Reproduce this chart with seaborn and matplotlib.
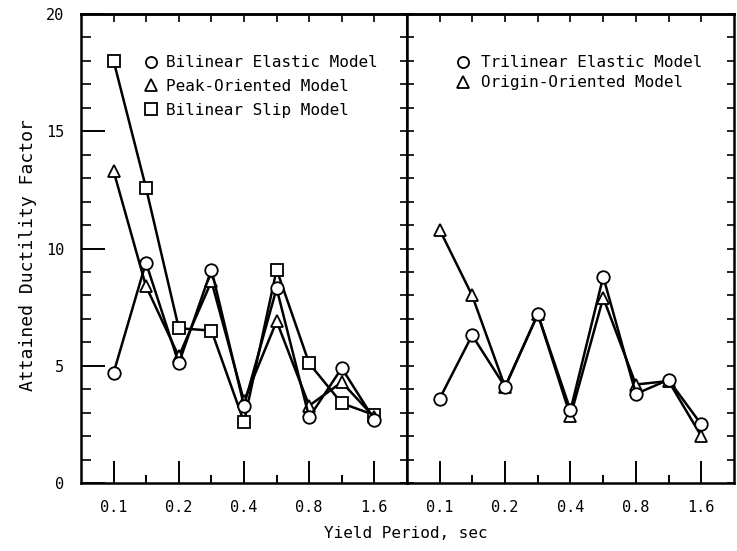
import matplotlib
matplotlib.use("Agg")
import matplotlib.pyplot as plt
import seaborn as sns
import pandas as pd
from matplotlib.lines import Line2D
from matplotlib.ticker import MultipleLocator, FixedLocator, NullFormatter, NullLocator

# yield periods (sec), log2 spaced
periods = [0.1, 0.141, 0.2, 0.283, 0.4, 0.566, 0.8, 1.131, 1.6]
tick_periods = [0.1, 0.2, 0.4, 0.8, 1.6]
minor_periods = [0.141, 0.283, 0.566, 1.131]

bilinear_elastic = [4.7, 9.4, 5.1, 9.1, 3.3, 8.3, 2.8, 4.9, 2.7]
peak_oriented = [13.3, 8.4, 5.4, 8.6, 3.5, 6.9, 3.3, 4.3, 2.8]
bilinear_slip = [18.0, 12.6, 6.6, 6.5, 2.6, 9.1, 5.1, 3.4, 2.9]

trilinear_elastic = [3.6, 6.3, 4.1, 7.2, 3.1, 8.8, 3.8, 4.4, 2.5]
origin_oriented = [10.8, 8.0, 4.1, 7.2, 2.85, 7.9, 4.2, 4.35, 2.0]

sns.set_style("ticks")
plt.rcParams['font.family'] = ['DejaVu Sans Mono', 'DejaVu Sans']
plt.rcParams['axes.linewidth'] = 1.8
for key in ['axes.edgecolor', 'xtick.color', 'ytick.color', 'text.color', 'axes.labelcolor']:
    plt.rcParams[key] = 'black'

fig = plt.figure(figsize=(7.37, 5.51), dpi=100)
ax1 = fig.add_axes([0.1099, 0.1234, 0.4423, 0.8512])
ax2 = fig.add_axes([0.5522, 0.1234, 0.4437, 0.8512])

style = dict(color='black', linewidth=1.8, markersize=9,
             markerfacecolor='white', markeredgecolor='black', markeredgewidth=1.3)


def draw(ax, series):
    for vals, mk in series:
        df = pd.DataFrame({'period': periods, 'factor': vals})
        sns.lineplot(data=df, x='period', y='factor', marker=mk, ax=ax, **style)


draw(ax1, [(bilinear_slip, 's'), (peak_oriented, '^'), (bilinear_elastic, 'o')])
draw(ax2, [(origin_oriented, '^'), (trilinear_elastic, 'o')])

for ax in (ax1, ax2):
    ax.set_xscale('log', base=2)
    ax.set_xlim(0.0707, 2.263)
    ax.set_ylim(0, 20)
    ax.set_xlabel('')
    ax.set_ylabel('')
    ax.xaxis.set_major_locator(FixedLocator(tick_periods))
    ax.xaxis.set_minor_locator(FixedLocator(minor_periods))
    ax.set_xticklabels(['0.1', '0.2', '0.4', '0.8', '1.6'])
    ax.xaxis.set_minor_formatter(NullFormatter())
    ax.tick_params(axis='x', which='major', direction='in', length=16, width=1.4,
                   labelsize=11, pad=12, bottom=True, top=False)
    ax.tick_params(axis='x', which='minor', direction='in', length=6, width=1.4,
                   bottom=True, top=False)
    top = ax.secondary_xaxis('top')
    top.xaxis.set_major_locator(FixedLocator(periods))
    top.xaxis.set_minor_locator(NullLocator())
    top.tick_params(direction='in', length=6, width=1.2, labeltop=False)
    top.spines['top'].set_linewidth(1.8)

# left panel y axis: long major ticks on the left, short ticks on the right
ax1.yaxis.set_major_locator(MultipleLocator(5))
ax1.yaxis.set_minor_locator(MultipleLocator(1))
ax1.tick_params(axis='y', which='major', direction='in', length=17, width=1.4,
                labelsize=11, pad=12, left=True, right=False)
ax1.tick_params(axis='y', which='minor', direction='in', length=7, width=1.2,
                left=True, right=False)
r1 = ax1.secondary_yaxis('right')
r1.yaxis.set_major_locator(MultipleLocator(1))
r1.tick_params(direction='in', length=5, width=1.2, labelright=False)

# right panel: short ticks on both sides, no labels
ax2.yaxis.set_major_locator(MultipleLocator(1))
ax2.yaxis.set_minor_locator(NullLocator())
ax2.tick_params(axis='y', direction='in', length=5, width=1.2,
                left=True, right=True, labelleft=False)

mk = dict(color='black', linestyle='none', markersize=8,
          markerfacecolor='white', markeredgewidth=1.3)
h1 = [Line2D([], [], marker='o', **mk), Line2D([], [], marker='^', **mk),
      Line2D([], [], marker='s', **mk)]
ax1.legend(h1, ['Bilinear Elastic Model', 'Peak-Oriented Model', 'Bilinear Slip Model'],
           loc='upper left', bbox_to_anchor=(0.19, 0.912), frameon=False,
           fontsize=11.5, handlelength=1.0, handletextpad=0.45, labelspacing=0.55,
           borderpad=0, borderaxespad=0)
h2 = [Line2D([], [], marker='o', **mk), Line2D([], [], marker='^', **mk)]
ax2.legend(h2, ['Trilinear Elastic Model', 'Origin-Oriented Model'],
           loc='upper left', bbox_to_anchor=(0.147, 0.912), frameon=False,
           fontsize=11.5, handlelength=1.0, handletextpad=0.6, labelspacing=0.32,
           borderpad=0, borderaxespad=0)

fig.text(0.55, 1 - 533 / 551, 'Yield Period, sec', ha='center', va='center', fontsize=11.5)
fig.text(28 / 737, 0.537, 'Attained Ductility Factor', ha='center', va='center',
         rotation=90, fontsize=13)

fig.savefig('out.png', dpi=100)
